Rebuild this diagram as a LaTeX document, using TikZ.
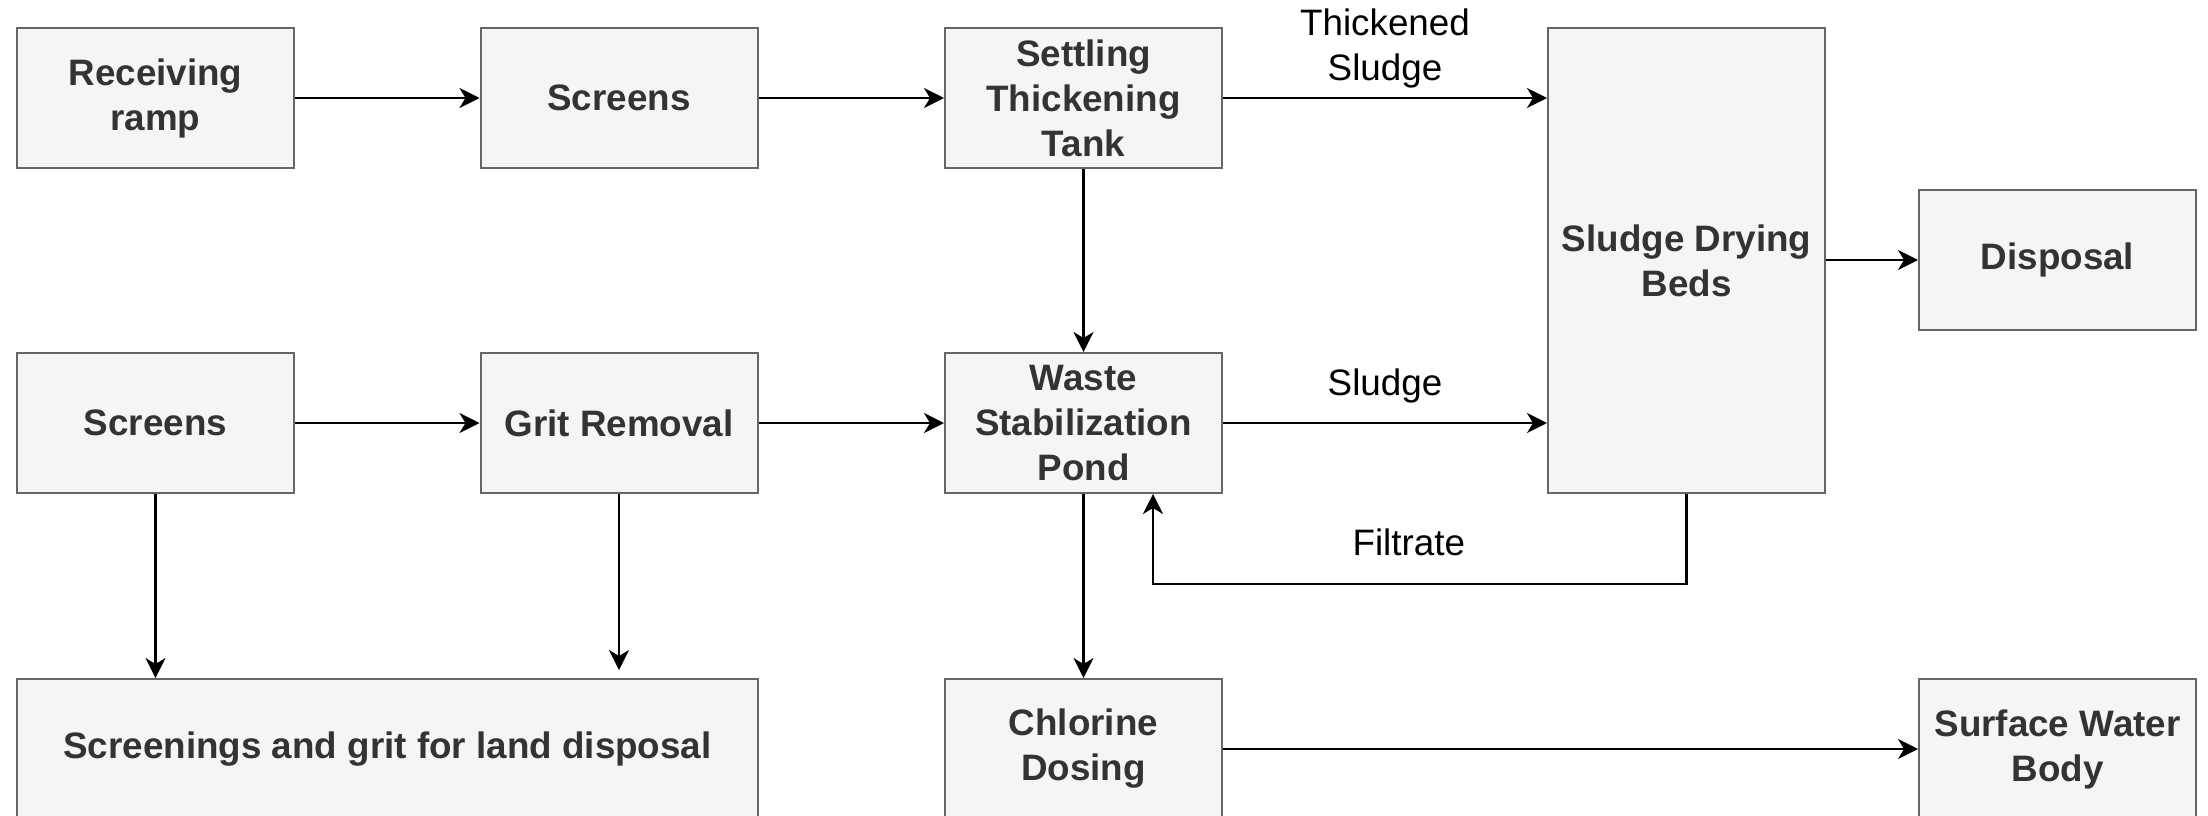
\documentclass[tikz,border=0pt]{standalone}
\usepackage{fontspec}
\setmainfont{Liberation Sans}
\usetikzlibrary{arrows.meta}
\definecolor{boxfill}{HTML}{F5F5F5}
\definecolor{boxline}{HTML}{666666}
\definecolor{boxtext}{HTML}{333333}
\begin{document}
\begin{tikzpicture}[x=0.5pt,y=-0.5pt,
 box/.style={draw=boxline, fill=boxfill, line width=1pt, text=boxtext,
   font=\fontsize{18.4}{22.5}\selectfont\bfseries, align=center, inner sep=0pt,
   minimum width=138.5pt, minimum height=70pt},
 flow/.style={draw=black, line width=1.1pt, -{Stealth[length=10pt,width=10pt,inset=3pt]}},
 lbl/.style={font=\fontsize{18.4}{22.5}\selectfont, text=black, align=center, inner sep=0pt}]
\useasboundingbox (0,0) rectangle (2208,815);
\clip (0,0) rectangle (2208,815);
\fill[white] (0,0) rectangle (2208,815);
% row 1
\node[box] (ramp) at (155.5,98) {Receiving\\ramp};
\node[box] (scr1) at (619,98) {Screens};
\node[box] (stt) at (1083.5,98) {Settling\\Thickening\\Tank};
\node[box, minimum height=232.5pt] (sdb) at (1686.5,260.5) {Sludge Drying\\Beds};
\node[box] (disp) at (2057.5,260) {Disposal};
% row 2
\node[box] (scr2) at (155.5,423) {Screens};
\node[box] (grit) at (619,423) {Grit Removal};
\node[box] (wsp) at (1083.5,423) {Waste\\Stabilization\\Pond};
% row 3
\node[box, minimum width=370.5pt] (land) at (387.5,749) {Screenings and grit for land disposal};
\node[box] (cl) at (1083.5,749) {Chlorine\\Dosing};
\node[box] (swb) at (2057.5,749) {Surface Water\\Body};
% connectors
\draw[flow] (ramp) -- (scr1);
\draw[flow] (scr1) -- (stt);
\draw[flow] (stt) -- node[lbl, yshift=25pt]{Thickened\\Sludge} (stt -| sdb.west);
\draw[flow] (stt) -- (wsp);
\draw[flow] (scr2) -- (grit);
\draw[flow] (grit) -- (wsp);
\draw[flow] (wsp) -- node[lbl, yshift=18.5pt]{Sludge} (wsp -| sdb.west);
\draw[flow] (sdb.east |- disp) -- (disp);
\draw[flow] (scr2) -- (scr2 |- land.north);
\coordinate (gritend) at (619,670);
\draw[flow] (grit) -- (gritend);
\draw[flow] (wsp) -- (cl);
\draw[flow] (cl) -- (swb);
\coordinate (f1) at (1686.5,584);
\coordinate (f2) at (1153,584);
\draw[flow] (sdb.south) -- (f1) -- node[lbl, yshift=21pt, xshift=-5.5pt]{Filtrate} (f2) -- (f2 |- wsp.south);
\end{tikzpicture}
\end{document}
